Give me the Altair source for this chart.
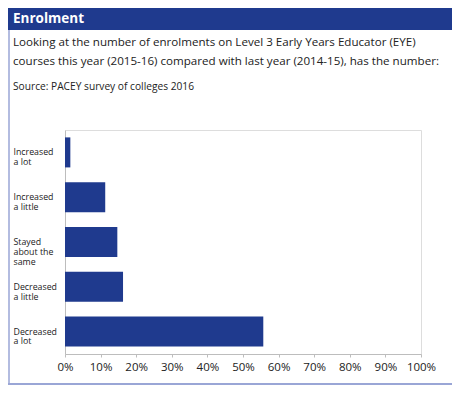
import altair as alt
import pandas as pd

categories = ["Increased\na lot", "Increased\na little", "Stayed\nabout the\nsame",
              "Decreased\na little", "Decreased\na lot"]
values = [1.5, 11.3, 14.7, 16.3, 55.7]

title_text = "Enrolment"
subtitle_lines = [
    "Looking at the number of enrolments on Level 3 Early Years Educator (EYE)",
    "courses this year (2015-16) compared with last year (2014-15), has the number:",
]
source_text = "Source: PACEY survey of colleges  2016"

df = pd.DataFrame({"cat": categories, "val": values})
one = pd.DataFrame({"k": [0]})

W, H = 356, 224
PL, PT = 57, 122
TW, TH = 444, 377
FONT = "Open Sans"
BLUE = "#1f3a8e"
FRAME = "#9aa6d6"

bars = alt.Chart(df).mark_bar(color=BLUE).encode(
    x=alt.X("val:Q", scale=alt.Scale(domain=[0, 100], nice=False),
            axis=alt.Axis(values=list(range(0, 101, 10)), labelExpr="datum.value + '%'",
                          title=None, grid=False, domainColor="#bdbdbd", tickColor="#bdbdbd",
                          tickSize=3, labelPadding=4, labelFontSize=11.5, labelColor="#222",
                          labelFont=FONT, labelFontWeight="normal", labelFlush=False)),
    y=alt.Y("cat:N", sort=categories,
            scale=alt.Scale(paddingInner=0.33, paddingOuter=0.165),
            axis=alt.Axis(title=None, ticks=False, domainColor="#bdbdbd",
                          labelExpr="split(datum.label, '\\n')", labelAlign="left",
                          labelPadding=52, labelFontSize=8.8, labelLineHeight=9.8,
                          labelColor="#222", labelFont=FONT, labelFontWeight="normal",
                          labelBaseline="middle")),
)

band = alt.Chart(one).mark_rect(color=BLUE).encode(
    x=alt.value(-PL), x2=alt.value(TW - PL), y=alt.value(-PT), y2=alt.value(-PT + 22)
)
left_border = alt.Chart(one).mark_rule(color=FRAME, strokeWidth=1.5).encode(
    x=alt.value(-PL + 1), y=alt.value(-PT + 22), y2=alt.value(TH - PT - 1)
)
bottom_border = alt.Chart(one).mark_rule(color=FRAME, strokeWidth=2).encode(
    x=alt.value(-PL), x2=alt.value(TW - PL), y=alt.value(TH - PT - 1)
)

title = alt.Chart(one).mark_text(text=title_text, font=FONT, fontSize=13.5, fontWeight="bold",
                                 color="white", align="left", baseline="middle").encode(
    x=alt.value(-52), y=alt.value(-111)
)
sub1 = alt.Chart(one).mark_text(text=subtitle_lines[0], font=FONT, fontSize=11.6,
                                fontWeight="normal", color="#222", align="left",
                                baseline="middle").encode(
    x=alt.value(-52), y=alt.value(-87)
)
sub2 = alt.Chart(one).mark_text(text=subtitle_lines[1], font=FONT, fontSize=11.6,
                                fontWeight="normal", color="#222", align="left",
                                baseline="middle").encode(
    x=alt.value(-52), y=alt.value(-68)
)
src = alt.Chart(one).mark_text(text=source_text, font=FONT, fontSize=10.2,
                               fontWeight="normal", color="#222", align="left",
                               baseline="middle").encode(
    x=alt.value(-52), y=alt.value(-43)
)

chart = alt.layer(band, left_border, bottom_border, title, sub1, sub2, src, bars).properties(
    width=W, height=H,
    autosize=alt.AutoSizeParams(type="none"),
    padding={"left": PL, "top": PT, "right": TW - PL - W, "bottom": TH - PT - H},
).configure_view(stroke=None).configure(background="white")

chart.save("out.html", embed_options={"renderer": "svg", "actions": False})
